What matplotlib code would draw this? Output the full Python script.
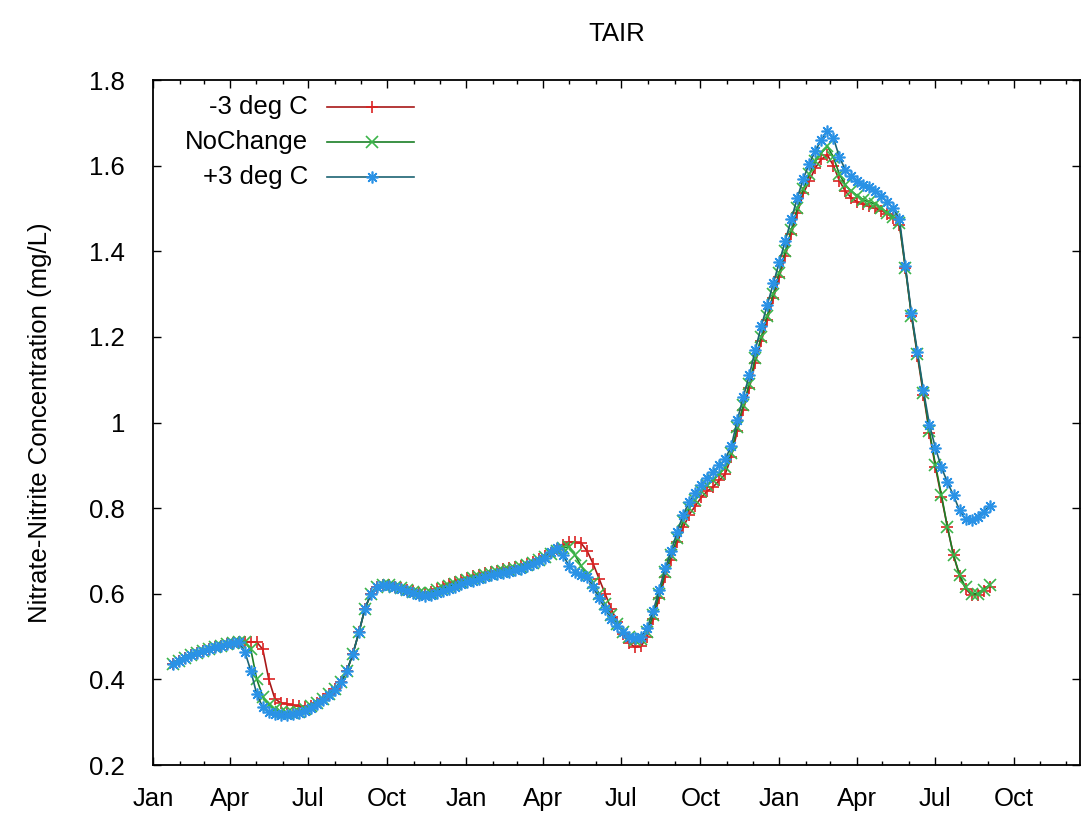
import numpy as np
import pandas as pd
import matplotlib
matplotlib.use("Agg")
import matplotlib.pyplot as plt
import matplotlib.dates as mdates

plt.rcParams['font.family'] = ['Liberation Sans', 'DejaVu Sans']

# weekly model output
dates = pd.date_range("2001-01-24", periods=137, freq="7D")

minus3 = [0.435, 0.442, 0.450, 0.456, 0.462, 0.467, 0.472, 0.476, 0.479, 0.482, 0.485, 0.487, 0.488, 0.488, 0.487,
          0.47, 0.40, 0.355, 0.345, 0.343, 0.34, 0.337, 0.336, 0.338, 0.345,
          0.355, 0.365, 0.378, 0.395, 0.42, 0.46, 0.51, 0.565, 0.60, 0.615,
          0.62, 0.62, 0.617, 0.614, 0.61, 0.606, 0.603, 0.602, 0.605, 0.611,
          0.617, 0.623, 0.628, 0.632, 0.637, 0.641, 0.645, 0.648, 0.651, 0.654,
          0.657, 0.66, 0.663, 0.666, 0.67, 0.675, 0.681, 0.688, 0.695, 0.705,
          0.715, 0.72, 0.72, 0.718, 0.70, 0.67, 0.635, 0.60, 0.565, 0.535,
          0.505, 0.485, 0.475, 0.478, 0.50, 0.54, 0.59, 0.64, 0.68, 0.72,
          0.755, 0.785, 0.805, 0.825, 0.84, 0.85, 0.865, 0.88, 0.92, 0.98,
          1.03, 1.08, 1.14, 1.19, 1.24, 1.29, 1.34, 1.39, 1.44, 1.49,
          1.535, 1.565, 1.595, 1.615, 1.625, 1.60, 1.565, 1.54, 1.525, 1.515,
          1.51, 1.505, 1.50, 1.495, 1.487, 1.478, 1.462, 1.36, 1.25, 1.155,
          1.065, 0.975, 0.895, 0.825, 0.755, 0.69, 0.642, 0.612, 0.597, 0.598,
          0.607, 0.617]

nochange = [0.435, 0.442, 0.450, 0.456, 0.462, 0.467, 0.472, 0.476, 0.479, 0.482, 0.485, 0.487, 0.488,
            0.47, 0.40, 0.36, 0.34, 0.33, 0.325, 0.322, 0.322, 0.325, 0.33,
            0.337, 0.345, 0.355, 0.365, 0.378, 0.395, 0.42, 0.46, 0.51, 0.565,
            0.60, 0.615, 0.62, 0.62, 0.617, 0.614, 0.61, 0.605, 0.602, 0.60,
            0.603, 0.608, 0.613, 0.618, 0.623, 0.627, 0.632, 0.636, 0.64, 0.643,
            0.647, 0.65, 0.653, 0.656, 0.659, 0.662, 0.667, 0.672, 0.678, 0.685,
            0.693, 0.70, 0.707, 0.71, 0.69, 0.665, 0.645, 0.625, 0.60, 0.575,
            0.55, 0.53, 0.51, 0.50, 0.492, 0.495, 0.51, 0.55, 0.60, 0.65,
            0.69, 0.73, 0.77, 0.80, 0.82, 0.84, 0.855, 0.865, 0.88, 0.895,
            0.93, 0.99, 1.04, 1.09, 1.15, 1.20, 1.25, 1.30, 1.35, 1.40,
            1.45, 1.50, 1.545, 1.58, 1.61, 1.63, 1.645, 1.62, 1.58, 1.555,
            1.54, 1.53, 1.52, 1.515, 1.51, 1.50, 1.49, 1.48, 1.465, 1.36,
            1.25, 1.16, 1.07, 0.98, 0.90, 0.83, 0.755, 0.69, 0.645, 0.615,
            0.60, 0.60, 0.61, 0.62]

plus3 = [0.435, 0.442, 0.450, 0.456, 0.462, 0.467, 0.472, 0.476, 0.479, 0.482, 0.485, 0.487,
         0.465,
         0.42, 0.365, 0.335, 0.325, 0.32, 0.318, 0.318, 0.32, 0.322, 0.327,
         0.333, 0.342, 0.352, 0.363, 0.376, 0.393, 0.42, 0.46, 0.51, 0.565,
         0.60, 0.615, 0.62, 0.618, 0.615, 0.612, 0.607, 0.602, 0.598, 0.596,
         0.598, 0.602, 0.607, 0.612, 0.617, 0.622, 0.627, 0.631, 0.635, 0.639,
         0.643, 0.646, 0.649, 0.652, 0.655, 0.659, 0.664, 0.669, 0.676, 0.684,
         0.697, 0.706, 0.69, 0.665, 0.652, 0.645, 0.64, 0.615, 0.59, 0.565,
         0.54, 0.525, 0.51, 0.50, 0.497, 0.50, 0.52, 0.56, 0.61, 0.66,
         0.70, 0.745, 0.785, 0.815, 0.835, 0.855, 0.87, 0.885, 0.90, 0.915,
         0.945, 1.005, 1.06, 1.11, 1.17, 1.225, 1.275, 1.325, 1.375, 1.425,
         1.475, 1.525, 1.57, 1.605, 1.635, 1.66, 1.68, 1.665, 1.62, 1.59,
         1.575, 1.565, 1.555, 1.55, 1.54, 1.53, 1.515, 1.50, 1.475, 1.365,
         1.255, 1.165, 1.075, 0.995, 0.94, 0.895, 0.86, 0.83, 0.795, 0.775,
         0.772, 0.78, 0.792, 0.805]

labels = ["-3 deg C", "NoChange", "+3 deg C"]
series = [minus3, nochange, plus3]
line_colors = ["#a81818", "#1a7f26", "#1d6473"]
marker_colors = ["#dc2222", "#3cb54a", "#2a92e6"]
markers = ["+", "x", (8, 2, 0)]

FS = 18.5

fig = plt.figure(figsize=(10.82, 8.15), dpi=100)
ax = fig.add_axes([0.1414, 0.0613, 0.8572, 0.8405])

for vals, lc, mc, mk in zip(series, line_colors, marker_colors, markers):
    ax.plot(dates, vals, color=lc, lw=1.2, marker=mk, ms=8.5, mew=1.2,
            mec=mc, mfc=mc)

ax.set_xlim(pd.Timestamp("2001-01-01"), pd.Timestamp("2003-12-18"))
ax.set_ylim(0.2, 1.8)
ax.set_yticks(np.arange(0.2, 1.81, 0.2))
ax.yaxis.set_major_formatter(plt.FuncFormatter(lambda v, p: "%g" % round(v, 2)))
ax.xaxis.set_major_locator(mdates.MonthLocator(bymonth=[1, 4, 7, 10]))
ax.xaxis.set_minor_locator(mdates.MonthLocator())
ax.xaxis.set_major_formatter(mdates.DateFormatter("%b"))

ax.tick_params(which="both", direction="in", top=True, right=True, labelsize=FS, width=1)
ax.tick_params(which="major", length=6)
ax.tick_params(which="minor", length=3)
ax.tick_params(axis="y", pad=20)
ax.tick_params(axis="x", pad=16)
for sp in ax.spines.values():
    sp.set_linewidth(1.3)

ax.set_ylabel("Nitrate-Nitrite Concentration (mg/L)", fontsize=FS)
ax.yaxis.set_label_coords(-0.109, 0.5)
ax.set_title("TAIR", fontsize=FS, pad=28)

# gnuplot style key: right aligned text, then line sample
key_y = [0.961, 0.909, 0.858]
for lab, ky, lc, mc, mk in zip(labels, key_y, line_colors, marker_colors, markers):
    ax.text(0.167, ky, lab, transform=ax.transAxes, ha="right", va="center", fontsize=FS)
    ax.plot([0.188, 0.281], [ky, ky], transform=ax.transAxes, color=lc, lw=1.2)
    ax.plot([0.236], [ky], transform=ax.transAxes, marker=mk, ms=8.5, mew=1.2, mec=mc, mfc=mc, ls="none")

fig.savefig("out.png", dpi=100)
